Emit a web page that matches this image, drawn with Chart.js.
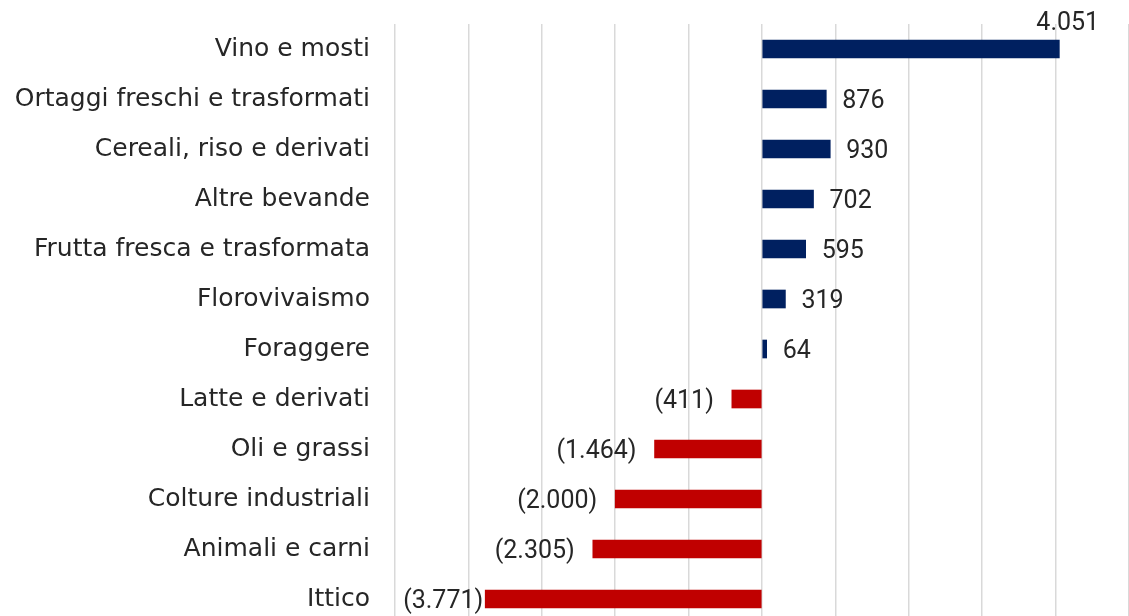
<!DOCTYPE html>
<html>
<head>
<meta charset="utf-8">
<script src="https://cdn.jsdelivr.net/npm/chart.js@4/dist/chart.umd.min.js"></script>
<style>
  html, body { margin: 0; padding: 0; background: #fff; overflow: hidden; }
  #wrap { position: relative; width: 1129px; height: 624px; }
</style>
</head>
<body>
<div id="wrap"><canvas id="chart"></canvas></div>
<script>
const categories = [
  'Vino e mosti',
  'Ortaggi freschi e trasformati',
  'Cereali, riso e derivati',
  'Altre bevande',
  'Frutta fresca e trasformata',
  'Florovivaismo',
  'Foraggere',
  'Latte e derivati',
  'Oli e grassi',
  'Colture industriali',
  'Animali e carni',
  'Ittico'
];
const values = [4051, 876, 930, 702, 595, 319, 64, -411, -1464, -2000, -2305, -3771];

const positiveColor = '#002060';
const negativeColor = '#C00000';

// numbers in italian style, negatives in brackets
function fmt(v) {
  const s = Math.abs(v).toString().replace(/\B(?=(\d{3})+(?!\d))/g, '.');
  return v < 0 ? '(' + s + ')' : s;
}

const valueLabels = {
  id: 'valueLabels',
  afterDatasetsDraw(chart) {
    const ctx = chart.ctx;
    const area = chart.chartArea;
    const meta = chart.getDatasetMeta(0);
    ctx.save();
    ctx.font = '25px Roboto';
    ctx.fillStyle = '#262626';
    ctx.textBaseline = 'middle';
    ctx.textAlign = 'left';
    meta.data.forEach((bar, i) => {
      const v = values[i];
      const text = fmt(v);
      const w = ctx.measureText(text).width;
      let x, y = bar.y + 3;
      if (v >= 0) {
        x = bar.x + 16;
        if (x + w > area.right) {
          // no room on the right: put it above the bar end
          x = bar.x - 23;
          y = bar.y - 25;
        }
      } else {
        x = bar.x - 18 - w;
        if (x < area.left + 5) x = bar.x - 2 - w;
      }
      ctx.fillText(text, x, y);
    });
    ctx.restore();
  }
};

new Chart(document.getElementById('chart').getContext('2d'), {
  type: 'bar',
  data: {
    labels: categories,
    datasets: [{
      data: values,
      backgroundColor: values.map(v => v < 0 ? negativeColor : positiveColor),
      barThickness: 18,
      borderSkipped: false
    }]
  },
  options: {
    indexAxis: 'y',
    responsive: true,
    maintainAspectRatio: false,
    animation: false,
    layout: { padding: { top: 24, right: 0, bottom: 0, left: 0 } },
    plugins: {
      legend: { display: false },
      tooltip: { enabled: false }
    },
    scales: {
      x: {
        min: -5000,
        max: 5000,
        ticks: { display: false, stepSize: 1000 },
        grid: { color: '#d9d9d9', lineWidth: 1.5, drawTicks: false },
        border: { display: false }
      },
      y: {
        grid: { display: false, drawTicks: false },
        border: { display: false },
        ticks: {
          padding: 25,
          color: '#262626',
          font: { family: 'DejaVu Sans', size: 25 }
        },
        afterFit(scale) {
          scale.width = 395;
          // tick padding would otherwise push the plot down from the top
          scale.paddingTop = 0;
          scale.paddingBottom = 0;
        }
      }
    }
  },
  plugins: [valueLabels]
});
</script>
</body>
</html>
